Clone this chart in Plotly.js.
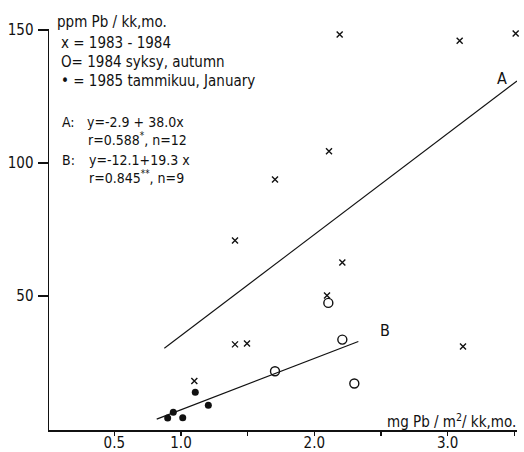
<!DOCTYPE html>
<html>
<head>
<meta charset="utf-8">
<script src="https://cdn.plot.ly/plotly-3.0.1.min.js"></script>
<style>html,body{margin:0;padding:0;background:#fff;}</style>
</head>
<body>
<div id="chart" style="width:524px;height:452px;"></div>
<script>
// 1983-1984 samples (x markers)
const crossX = [2.19, 3.09, 3.51, 2.11, 1.705, 1.405, 2.21, 2.095, 1.405, 1.495, 3.115, 1.10];
const crossY = [148.3, 146.0, 148.7, 104.4, 93.8, 70.9, 62.6, 50.2, 31.8, 32.1, 31.0, 18.0];
// 1984 autumn (open circles)
const openX = [2.105, 2.21, 1.705, 2.30];
const openY = [47.4, 33.6, 21.7, 17.1];
// 1985 January (filled dots)
const filledX = [1.107, 1.205, 0.942, 0.90, 1.013];
const filledY = [13.8, 8.9, 6.3, 4.1, 4.2];
// regression lines: [intercept, slope], x extent
const lineA = [-2.9, 38.0];
const lineAX = [0.875, 3.52];
const lineB = [-12.1, 19.3];
const lineBX = [0.818, 2.33];
// ticks
const xTickVals = [0.5, 1.0, 2.0, 3.0];
const xTickText = ["0.5", "1.0", "2.0", "3.0"];
const xMinorVals = [1.5, 2.5, 3.5];
const yTickVals = [50, 100, 150];
const yTickText = ["50", "100", "150"];

const FONT = "DejaVu Sans Condensed, DejaVu Sans, sans-serif";
const L = 49, R = 517, T = 29, B = 430;
function px(x) { return (x - L) / (R - L); }
function py(y) { return (B - y) / (B - T); }
function ann(text, x, y, size, anchor) {
  return {text: text, xref: 'paper', yref: 'paper', x: px(x), y: py(y),
    xanchor: anchor || 'left', yanchor: 'middle', showarrow: false,
    font: {family: FONT, size: size || 15, color: '#111'}};
}

const traces = [
  {x: crossX, y: crossY, mode: 'markers', type: 'scatter', cliponaxis: false,
   marker: {symbol: 'x-thin', size: 6, color: '#111', line: {width: 1.4, color: '#111'}}},
  {x: openX, y: openY, mode: 'markers', type: 'scatter', cliponaxis: false,
   marker: {symbol: 'circle-open', size: 9, color: '#111', line: {width: 1.4, color: '#111'}}},
  {x: filledX, y: filledY, mode: 'markers', type: 'scatter', cliponaxis: false,
   marker: {symbol: 'circle', size: 7, color: '#111'}},
  {x: lineAX, y: lineAX.map(v => lineA[0] + lineA[1] * v), mode: 'lines', type: 'scatter',
   line: {color: '#111', width: 1.1}},
  {x: lineBX, y: lineBX.map(v => lineB[0] + lineB[1] * v), mode: 'lines', type: 'scatter',
   line: {color: '#111', width: 1.2}}
];

const layout = {
  width: 524, height: 452,
  margin: {l: L, r: 524 - R, t: T, b: 452 - B, pad: 0},
  paper_bgcolor: '#fff', plot_bgcolor: '#fff',
  showlegend: false,
  font: {family: FONT, size: 15, color: '#111'},
  xaxis: {range: [0.01, 3.52], showgrid: false, zeroline: false, showline: true,
    linecolor: '#111', linewidth: 1.5, ticks: 'outside', ticklen: 4, tickwidth: 1.2,
    tickcolor: '#111', tickmode: 'array', tickvals: xTickVals, ticktext: xTickText,
    ticklabelstandoff: -6,
    minor: {tickmode: 'array', tickvals: xMinorVals, ticks: 'outside', ticklen: 4,
      tickwidth: 1.2, tickcolor: '#111', showgrid: false},
    tickfont: {family: FONT, size: 15, color: '#111'}},
  yaxis: {range: [-0.4, 150.4], showgrid: false, zeroline: false, showline: true,
    linecolor: '#111', linewidth: 1.5, ticks: 'outside', ticklen: 10, tickwidth: 1.2,
    tickcolor: '#111', tickmode: 'array', tickvals: yTickVals, ticktext: yTickText,
    ticklabelstandoff: 1,
    tickfont: {family: FONT, size: 15, color: '#111'}},
  annotations: [
    ann('ppm Pb / kk,mo.', 55, 22, 15),
    ann('x = 1983 - 1984', 59, 43, 15),
    ann('O= 1984 syksy, autumn', 59, 62, 15),
    ann('\u2022 = 1985 tammikuu, January', 59, 81, 15),
    ann('A:', 60, 122, 14),
    ann('y=-2.9 + 38.0x', 85, 122, 14),
    ann('r=0.588<sup>*</sup>, n=12', 86, 139, 14),
    ann('B:', 60, 160, 14),
    ann('y=-12.1+19.3 x', 87, 160, 14),
    ann('r=0.845<sup>**</sup>, n=9', 87, 177, 14),
    ann('A', 502, 78, 16, 'center'),
    ann('B', 385, 330, 16, 'center'),
    ann('mg Pb / m<sup>2</sup>/ kk,mo.', 518, 421, 15, 'right')
  ]
};

Plotly.newPlot('chart', traces, layout, {displayModeBar: false, staticPlot: true});
</script>
</body>
</html>
